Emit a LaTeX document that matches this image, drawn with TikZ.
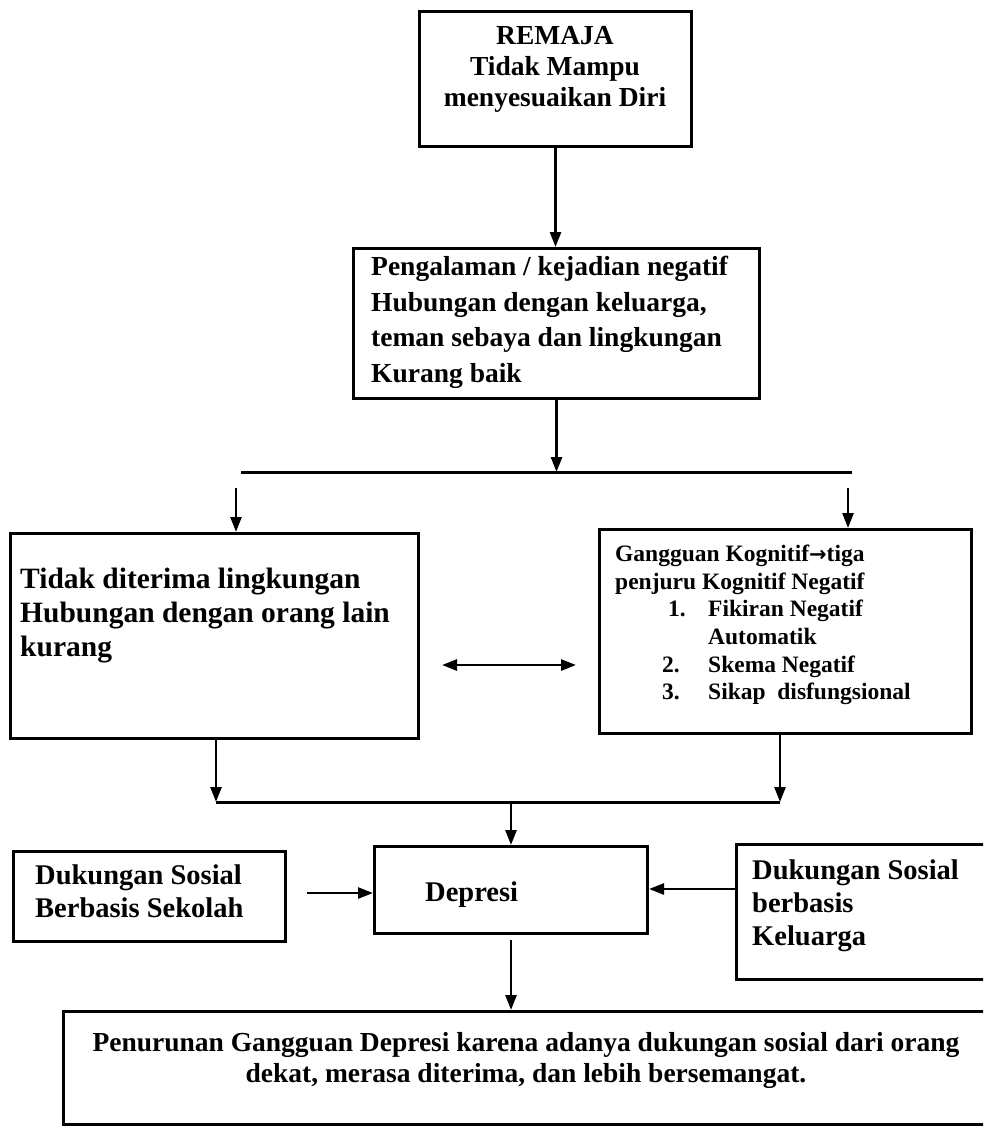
\documentclass[tikz,border=0pt]{standalone}
\usepackage{fontspec}
\setmainfont{Liberation Serif}
\newfontfamily\myarrowfont{DejaVu Sans}
\usetikzlibrary{arrows.meta}
\newcommand\myfA{\bfseries\fontsize{27.5}{31}\selectfont}
\newcommand\myfB{\bfseries\fontsize{27.5}{35.5}\selectfont}
\newcommand\myfC{\bfseries\fontsize{29.5}{34}\selectfont}
\newcommand\myfD{\bfseries\fontsize{23.5}{27.6}\selectfont}
\newcommand\myfE{\bfseries\fontsize{28.5}{33}\selectfont}
\newcommand\myfF{\bfseries\fontsize{27.5}{31}\selectfont}
\newcommand\myarr{{\myarrowfont\bfseries\fontsize{21}{21}\selectfont →}}
\begin{document}
\begin{tikzpicture}[x=1pt,y=-1pt,
  box/.style={draw, line width=3pt, inner sep=0pt, anchor=north west},
  txt/.style={inner sep=0pt, align=left, anchor=north west},
  arr/.style={line width=2.6pt, -{Triangle[length=15pt,width=11pt]}},
  arrtwo/.style={line width=2.6pt, {Triangle[length=15pt,width=11pt]}-{Triangle[length=15pt,width=11pt]}},
  ln/.style={line width=3pt}]
\useasboundingbox (0,0) rectangle (983,1130);
\clip (0,0) rectangle (983,1130);
% boxes
\node[box, minimum width=272pt, minimum height=135pt] (remaja) at (418,10) {};
\node[box, minimum width=406pt, minimum height=150pt] (peng) at (352,247) {};
\node[box, minimum width=408pt, minimum height=205pt] (tidak) at (9,532) {};
\node[box, minimum width=372pt, minimum height=204pt] (kog) at (598,528) {};
\node[box, minimum width=272pt, minimum height=90pt] (dks) at (12,850) {};
\node[box, minimum width=273pt, minimum height=87pt] (dep) at (373,845) {};
\node[box, minimum width=262pt, minimum height=135pt] (dkk) at (735,843) {};
\node[box, minimum width=940pt, minimum height=113pt] (pen) at (62,1010) {};
% texts
\node[txt, align=center, anchor=north, font=\myfA] (remajaT) at (555,26) {REMAJA\\Tidak Mampu\\menyesuaikan Diri};
\node[txt, font=\myfB] (pengT) at (371,256) {Pengalaman / kejadian negatif\\Hubungan dengan keluarga,\\teman sebaya dan lingkungan\\Kurang baik};
\node[txt, font=\myfC] (tidakT) at (20,568) {Tidak diterima lingkungan\\Hubungan dengan orang lain\\kurang};
\node[txt, font=\myfD] (kogT) at (615,545) {Gangguan Kognitif\myarr tiga\\penjuru Kognitif Negatif\\
\hspace*{53pt}\makebox[40pt][l]{1.}Fikiran Negatif\\
\hspace*{93pt}Automatik\\
\hspace*{47pt}\makebox[46pt][l]{2.}Skema Negatif\\
\hspace*{47pt}\makebox[46pt][l]{3.}Sikap\ \ disfungsional};
\node[txt, font=\myfE] (dksT) at (35,865) {Dukungan Sosial\\Berbasis Sekolah};
\node[txt, font=\myfE, anchor=base west] (depT) at (425,901) {Depresi};
\node[txt, font=\myfE] (dkkT) at (752,860) {Dukungan Sosial\\berbasis\\Keluarga};
\node[txt, align=center, anchor=north, font=\myfF] (penT) at (526,1032) {Penurunan Gangguan Depresi karena adanya dukungan sosial dari orang\\dekat, merasa diterima, dan lebih bersemangat.};
% connectors
\draw[arr] (remaja.south) -- (remaja.south |- peng.north);
\coordinate (sL) at (241,472);
\coordinate (sR) at (852,472);
\draw[ln] (sL) -- (sR);
\draw[arr] (peng.south) -- (peng.south |- sL);
\coordinate (aL) at (236,488);
\coordinate (aR) at (848,488);
\draw[arr] (aL) -- (aL |- tidak.north);
\draw[arr] (aR) -- (aR |- kog.north);
\coordinate (dA) at (417,665);
\coordinate (dB) at (598,665);
\draw[arrtwo, shorten <=25pt, shorten >=22pt] (dA) -- (dB);
\coordinate (jL) at (216,802);
\coordinate (jR) at (780,802);
\draw[arr] (tidak.south -| jL) -- (jL);
\draw[arr] (kog.south -| jR) -- (jR);
\draw[ln] (jL) -- (jR);
\draw[arr] (dep.north |- jL) -- (dep.north);
\coordinate (eL) at (284,893);
\draw[arr, shorten <=23pt] (eL) -- (eL -| dep.west);
\coordinate (eR) at (735,889);
\draw[arr] (eR) -- (eR -| dep.east);
\draw[arr, shorten <=5pt] (dep.south) -- (dep.south |- pen.north);
\end{tikzpicture}
\end{document}
